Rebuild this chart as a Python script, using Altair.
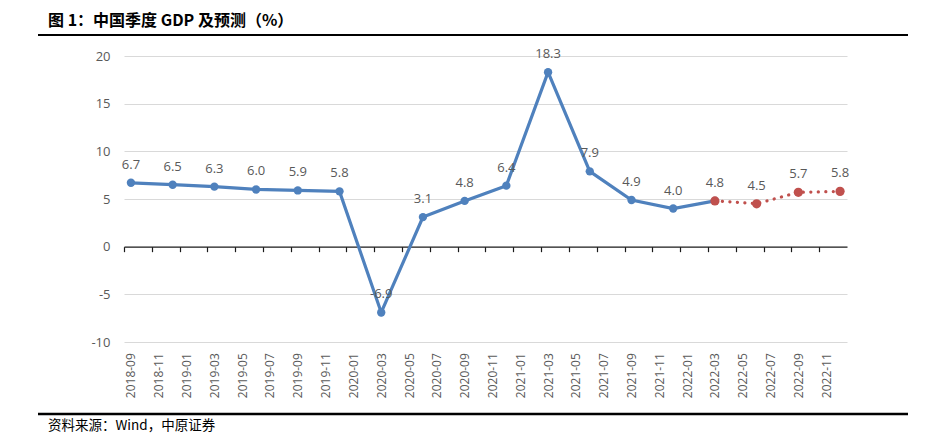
import json
import altair as alt
import pandas as pd

title_text = "图 1：中国季度 GDP 及预测（%）"
source_text = "资料来源：Wind，中原证券"

quarters = ["2018-09", "2018-12", "2019-03", "2019-06", "2019-09", "2019-12",
            "2020-03", "2020-06", "2020-09", "2020-12", "2021-03", "2021-06",
            "2021-09", "2021-12", "2022-03", "2022-06", "2022-09", "2022-12"]
gdp = [6.7, 6.5, 6.3, 6.0, 5.9, 5.8, -6.9, 3.1, 4.8, 6.4, 18.3, 7.9,
       4.9, 4.0, 4.8, 4.5, 5.7, 5.8]
forecast_start = "2022-03"

tick_labels = ["2018-09", "2018-11", "2019-01", "2019-03", "2019-05", "2019-07",
               "2019-09", "2019-11", "2020-01", "2020-03", "2020-05", "2020-07",
               "2020-09", "2020-11", "2021-01", "2021-03", "2021-05", "2021-07",
               "2021-09", "2021-11", "2022-01", "2022-03", "2022-05", "2022-07",
               "2022-09", "2022-11"]
y_ticks = [-10, -5, 0, 5, 10, 15, 20]

BLUE = "#4F81BD"
RED = "#C0504D"
GREY = "#595959"

W, H = 723, 286


def month_index(s):
    y, m = map(int, s.split("-"))
    return (y - 2018) * 12 + (m - 9)


df = pd.DataFrame({"quarter": quarters, "gdp": gdp})
df["idx"] = df["quarter"].map(month_index)
df["label"] = df["gdp"].map(lambda v: f"{v:.1f}")
fi = quarters.index(forecast_start)
actual = df.iloc[: fi + 1]
forecast = df.iloc[fi:]

x_min = month_index(quarters[0]) - 0.5
x_max = month_index(quarters[-1]) + 0.5
tick_idx = [month_index(t) for t in tick_labels]
tick_values = tick_idx + [tick_idx[-1] + 2]
label_arr = [""] * (tick_values[-1] + 1)
for i, t in zip(tick_idx, tick_labels):
    label_arr[i] = t
label_expr = json.dumps(label_arr, ensure_ascii=False) + "[datum.value] || ''"

half_month = W / (x_max - x_min) / 2
y_dom = [-10, 20]
zero_offset = -(0 - y_dom[0]) / (y_dom[1] - y_dom[0]) * H

x_enc = alt.X(
    "idx:Q",
    scale=alt.Scale(domain=[x_min, x_max], nice=False, zero=False),
    axis=alt.Axis(
        values=tick_values, labelExpr=label_expr, labelAngle=270,
        labelFontSize=12, labelColor=GREY, labelFont="Open Sans",
        labelPadding=101, labelOffset=half_month, tickOffset=-half_month,
        tickSize=5, tickColor="#1a1a1a", tickWidth=1.2,
        domainColor="#1a1a1a", domainWidth=1.3, offset=zero_offset,
        grid=False, title=None, labelOverlap=False, labelFlush=False,
        labelBound=False,
    ),
)
y_enc = alt.Y(
    "gdp:Q",
    scale=alt.Scale(domain=y_dom, nice=False, zero=False),
    axis=alt.Axis(
        values=y_ticks, domain=False, ticks=False, labelPadding=14,
        labelFontSize=13, labelColor=GREY, labelFont="Open Sans",
        labelExpr="datum.value + ''",
        gridColor={"condition": {"test": "datum.value === 0", "value": "transparent"},
                   "value": "#d9d9d9"},
        gridWidth=1.2, title=None,
    ),
)

blue_line = alt.Chart(actual).mark_line(color=BLUE, strokeWidth=3.2).encode(x=x_enc, y=y_enc)
blue_pts = alt.Chart(actual).mark_circle(color=BLUE, size=70, opacity=1).encode(x=x_enc, y=y_enc)
red_line = alt.Chart(forecast).mark_line(
    color=RED, strokeWidth=3.2, strokeDash=[0.1, 7.4], strokeCap="round"
).encode(x=x_enc, y=y_enc)
red_pts = alt.Chart(forecast).mark_circle(color=RED, size=85, opacity=1).encode(x=x_enc, y=y_enc)
labels = alt.Chart(df).mark_text(
    dy=-18, fontSize=13, color=GREY, font="Open Sans"
).encode(x=x_enc, y=y_enc, text="label:N")

title = alt.Chart(pd.DataFrame({"t": [title_text]})).mark_text(
    font="Noto Sans CJK SC", fontSize=16, fontWeight="bold", color="#000000",
    align="left", baseline="middle"
).encode(text="t:N", x=alt.value(-76), y=alt.value(-35))
title_rule = alt.Chart(pd.DataFrame({"a": [0]})).mark_rule(
    color="#000000", strokeWidth=2
).encode(x=alt.value(-86), x2=alt.value(784), y=alt.value(-21))
foot_rule = alt.Chart(pd.DataFrame({"a": [0]})).mark_rule(
    color="#000000", strokeWidth=2.5
).encode(x=alt.value(-86), x2=alt.value(784), y=alt.value(358))
source = alt.Chart(pd.DataFrame({"t": [source_text]})).mark_text(
    font="Noto Sans CJK SC", fontSize=13.5, color="#000000",
    align="left", baseline="middle"
).encode(text="t:N", x=alt.value(-76), y=alt.value(370))

chart = alt.layer(
    blue_line, blue_pts, red_line, red_pts, labels,
    title, title_rule, foot_rule, source
).properties(
    width=W, height=H,
    autosize=alt.AutoSizeParams(type="none"),
    padding={"left": 116, "top": 48, "right": 72, "bottom": 93},
).configure_view(stroke=None)

chart.save("out.html", embed_options={"renderer": "svg", "actions": False})
